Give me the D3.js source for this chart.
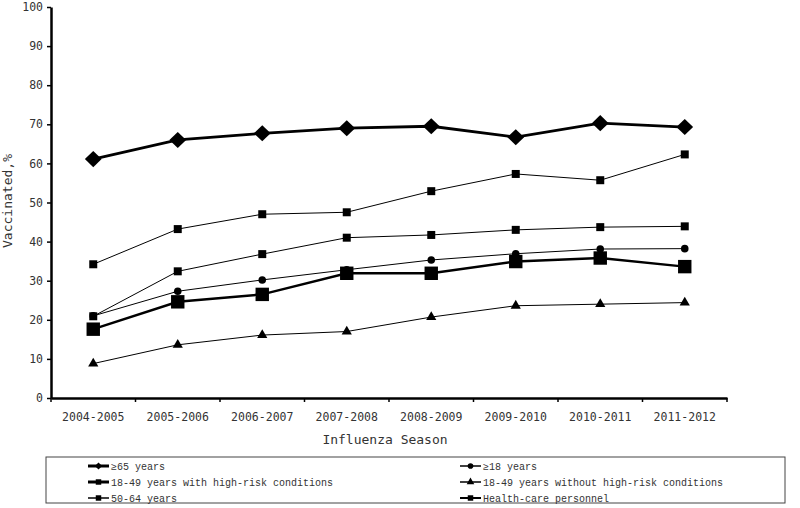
<html>
<head>
<script src="https://cdn.jsdelivr.net/npm/d3@7"></script>
<style>
  body { margin: 0; background: #fff; }
  text { font-family: "DejaVu Sans Mono", monospace; fill: #333; }
</style>
</head>
<body>
<script>
// data
var seasons = ["2004-2005","2005-2006","2006-2007","2007-2008","2008-2009","2009-2010","2010-2011","2011-2012"];
var age65 = [61.1, 66.0, 67.7, 69.0, 69.5, 66.7, 70.3, 69.3];
var hcp = [34.2, 43.2, 47.0, 47.5, 52.9, 57.3, 55.7, 62.3];
var age50to64 = [20.9, 32.4, 36.8, 41.0, 41.7, 43.0, 43.7, 43.9];
var adults18 = [21.0, 27.3, 30.2, 32.8, 35.3, 36.9, 38.1, 38.2];
var hiRisk = [17.6, 24.6, 26.5, 31.9, 31.9, 34.9, 35.8, 33.6];
var noRisk = [8.8, 13.6, 16.1, 17.0, 20.7, 23.6, 24.0, 24.4];
var yTicks = [0,10,20,30,40,50,60,70,80,90,100];

var series = [
  {name: "50-64 years", values: age50to64, lw: 1, shape: d3.symbolSquare, size: 64},
  {name: "Health-care personnel", values: hcp, lw: 1, shape: d3.symbolSquare, size: 64},
  {name: "\u226518 years", values: adults18, lw: 1, shape: d3.symbolCircle, size: 45},
  {name: "18-49 years without high-risk conditions", values: noRisk, lw: 1, shape: d3.symbolTriangle, size: 45},
  {name: "18-49 years with high-risk conditions", values: hiRisk, lw: 2.5, shape: d3.symbolSquare, size: 180},
  {name: "\u226565 years", values: age65, lw: 2.8, shape: d3.symbolDiamond, size: 75}
];

var W = 800, H = 508;
var svg = d3.select("body").append("svg").attr("width", W).attr("height", H);

var x = d3.scaleBand().domain(seasons).range([51, 727]);
var y = d3.scaleLinear().domain([0, 100]).range([398, 7]);

// axes
var yAxis = svg.append("g").attr("transform", "translate(51,0)")
  .call(d3.axisLeft(y).tickValues(yTicks).tickSize(4).tickSizeOuter(0));
var xAxis = svg.append("g").attr("transform", "translate(0,398)")
  .call(d3.axisBottom(x).tickSize(0));
[yAxis, xAxis].forEach(function(g){
  g.select(".domain").attr("stroke", "#000").attr("stroke-width", 2.5);
  g.selectAll("line").attr("stroke", "#000").attr("stroke-width", 1.5);
  g.selectAll("text").style("font-family", "DejaVu Sans Mono, monospace").style("font-size", "11.5px").attr("fill", "#444");
});
yAxis.selectAll("text").attr("x", -8);
xAxis.selectAll("text").attr("dy", "1.7em");
// tick marks at band edges
xAxis.selectAll(".edge").data(seasons.concat(["end"])).enter().append("line")
  .attr("x1", function(d,i){ return 51 + i * x.step(); })
  .attr("x2", function(d,i){ return 51 + i * x.step(); })
  .attr("y1", 0).attr("y2", 4).attr("stroke", "#000").attr("stroke-width", 1.5);

svg.append("text").attr("transform", "translate(12,201) rotate(-90)")
  .attr("text-anchor", "middle").style("font-size", "13px").text("Vaccinated,%");
svg.append("text").attr("x", 385).attr("y", 444)
  .attr("text-anchor", "middle").style("font-size", "13px").text("Influenza Season");

// lines and markers
var line = d3.line()
  .x(function(d,i){ return x(seasons[i]) + x.bandwidth()/2; })
  .y(function(d){ return y(d); });

series.forEach(function(s){
  svg.append("path").datum(s.values).attr("d", line)
    .attr("fill", "none").attr("stroke", "#000").attr("stroke-width", s.lw);
  svg.selectAll(null).data(s.values).enter().append("path")
    .attr("d", d3.symbol().type(s.shape).size(s.size))
    .attr("transform", function(d,i){
      return "translate(" + (x(seasons[i]) + x.bandwidth()/2) + "," + y(d) + ")" + (s.shape === d3.symbolDiamond ? " scale(1.8,1)" : "");
    })
    .attr("fill", "#000");
});

// legend
var legendItems = [
  {name: "\u226565 years", lw: 3, shape: d3.symbolDiamond, size: 14},
  {name: "\u226518 years", lw: 1.5, shape: d3.symbolCircle, size: 25},
  {name: "18-49 years with high-risk conditions", lw: 3, shape: d3.symbolSquare, size: 30},
  {name: "18-49 years without high-risk conditions", lw: 1.5, shape: d3.symbolTriangle, size: 25},
  {name: "50-64 years", lw: 1.5, shape: d3.symbolSquare, size: 30},
  {name: "Health-care personnel", lw: 2, shape: d3.symbolSquare, size: 30}
];
svg.append("rect").attr("x", 46).attr("y", 457).attr("width", 739).attr("height", 46)
  .attr("fill", "#fff").attr("stroke", "#444").attr("stroke-width", 1);
var lg = svg.selectAll(".lg").data(legendItems).enter().append("g")
  .attr("transform", function(d,i){
    return "translate(" + (i % 2 === 0 ? 88 : 460) + "," + (466 + Math.floor(i/2) * 16) + ")";
  });
lg.append("line").attr("x1", 0).attr("x2", 21).attr("y1", 0).attr("y2", 0)
  .attr("stroke", "#000").attr("stroke-width", function(d){ return d.lw; });
lg.append("path")
  .attr("transform", function(d){ return "translate(10.5,0)" + (d.shape === d3.symbolDiamond ? " scale(1.8,1)" : ""); })
  .attr("d", function(d){ return d3.symbol().type(d.shape).size(d.size)(); }).attr("fill", "#000");
lg.append("text").attr("x", 23).attr("y", 3.5).style("font-size", "10px")
  .style("font-family", "Liberation Mono, monospace").attr("fill", "#222")
  .text(function(d){ return d.name; });
</script>
</body>
</html>
